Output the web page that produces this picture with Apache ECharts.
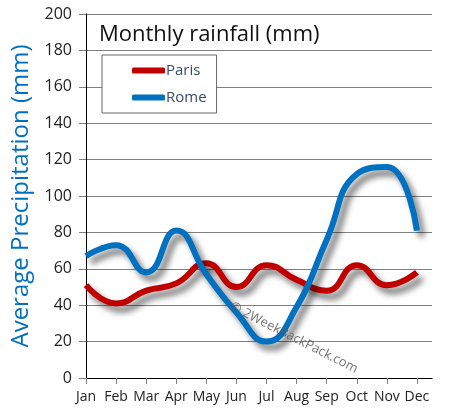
<!DOCTYPE html>
<html><head><meta charset="utf-8">
<script src="https://cdn.jsdelivr.net/npm/echarts@6/dist/echarts.min.js"></script>
<style>html,body{margin:0;padding:0;background:#fff}#c{width:452px;height:418px}</style>
</head><body><div id="c"></div>
<script>
const months = ['Jan','Feb','Mar','Apr','May','Jun','Jul','Aug','Sep','Oct','Nov','Dec'];
const paris = [51, 41, 48, 52, 63, 50, 62, 54, 48, 62, 51, 58];
const rome = [67, 73, 58, 81, 57, 36, 20, 39, 76, 112, 116, 81];
const yTicks = [0, 20, 40, 60, 80, 100, 120, 140, 160, 180, 200];

const FONT = '"Open Sans", sans-serif';
const chart = echarts.init(document.getElementById('c'), null, {renderer:'canvas'});
const shadow = {shadowColor:'rgba(0,0,0,0.55)', shadowBlur:6, shadowOffsetX:5, shadowOffsetY:6};
chart.setOption({
  animation:false,
  backgroundColor:'#fff',
  grid:{left:86, right:20, top:14, bottom:40, containLabel:false},
  title:{text:'Monthly rainfall (mm)', left:94, top:19,
    textStyle:{fontFamily:FONT, fontSize:22, fontWeight:'normal', color:'#111'}},
  legend:{orient:'vertical', left:102, top:55, width:138, height:58,
    padding:[8,10,8,30], itemGap:12, itemWidth:33, itemHeight:6,
    borderColor:'#666', borderWidth:1, backgroundColor:'#fff',
    icon:'roundRect',
    textStyle:{fontFamily:FONT, fontSize:15, color:'#3a4a6a', padding:[0,0,0,-4]},
    data:['Paris','Rome']},
  xAxis:[{type:'value', min:0, max:11.5, interval:1,
    axisLine:{lineStyle:{color:'#808080'}},
    axisTick:{show:true, length:6, lineStyle:{color:'#808080'}},
    splitLine:{show:false},
    axisLabel:{fontFamily:FONT, fontSize:14, color:'#222', margin:12, showMaxLabel:false,
      formatter:v => (Number.isInteger(v) && months[v]) ? months[v] : ''}},
   {type:'value', position:'top', min:0, max:11.5,
    axisLine:{show:true, lineStyle:{color:'#000'}}, axisTick:{show:false},
    axisLabel:{show:false}, splitLine:{show:false}}],
  yAxis:[{type:'value', min:yTicks[0], max:yTicks[yTicks.length-1], interval:20,
    name:'Average Precipitation (mm)', nameLocation:'middle', nameGap:47, nameRotate:90,
    nameTextStyle:{fontFamily:FONT, fontSize:24, color:'#0070C0'},
    axisLine:{show:true, lineStyle:{color:'#808080'}},
    axisTick:{show:true, inside:false, length:7, lineStyle:{color:'#808080'}},
    splitLine:{lineStyle:{color:'#808080', width:1}},
    axisLabel:{fontFamily:FONT, fontSize:16, color:'#222', margin:14}},
   {type:'value', position:'right', min:0, max:200,
    axisLine:{show:true, lineStyle:{color:'#000'}}, axisTick:{show:false},
    axisLabel:{show:false}, splitLine:{show:false}}],
  series:[
    {name:'Paris', type:'line', smooth:0.5, symbol:'none', color:'#C00000',
     data:paris.map((v,i)=>[i,v]), lineStyle:Object.assign({width:6, color:'#C00000'}, shadow), z:3},
    {name:'Rome', type:'line', smooth:0.5, symbol:'none', color:'#0070C0',
     data:rome.map((v,i)=>[i,v]), lineStyle:Object.assign({width:6, color:'#0070C0'}, shadow), z:4}
  ],
  graphic:[{type:'text', left:228, top:300, rotation:-0.47, z:100,
    style:{text:'© 2WeekBackPack.com', fill:'rgba(90,90,90,0.85)', font:'13px "Open Sans", sans-serif'}}]
});
</script></body></html>
